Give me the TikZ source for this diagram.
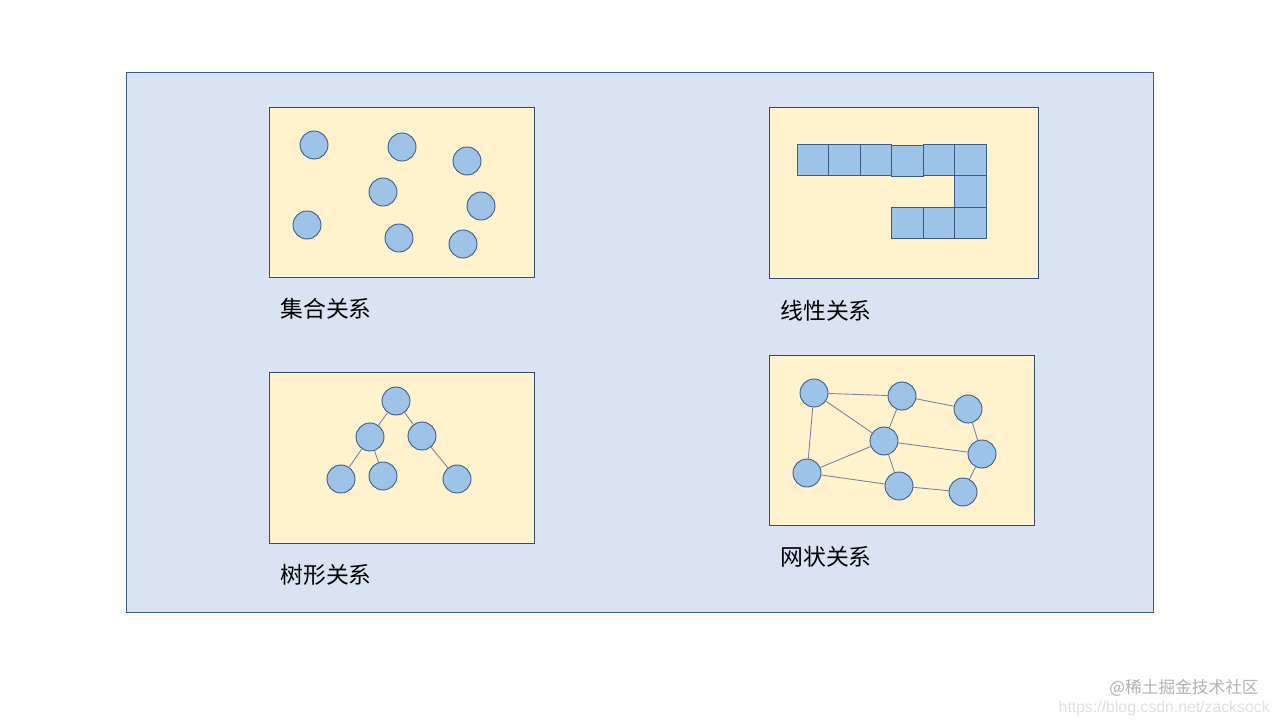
\documentclass[tikz,border=0pt]{standalone}
\usepackage{fontspec}
\newfontfamily\cjk{Noto Sans CJK SC}
\setsansfont{Liberation Sans}
\definecolor{fondo}{HTML}{DAE3F3}
\definecolor{borde}{HTML}{3A5A8C}
\definecolor{panel}{HTML}{FFF2CC}
\definecolor{nodo}{HTML}{9DC3E6}
\definecolor{linea}{HTML}{7A84A0}
\tikzset{
  Marco/.style={draw=borde!85!black,fill=panel,line width=0.5pt},
  Bola/.style={draw=borde,fill=nodo,circle,minimum size=0.56cm,inner sep=0pt,line width=0.5pt},
  Caja/.style={draw=borde,fill=nodo,rectangle,minimum size=0.63cm,inner sep=0pt,line width=0.5pt},
  Nombre/.style={anchor=west,font=\cjk\fontsize{13pt}{15pt}\selectfont,inner sep=0pt},
  Enlace/.style={draw=linea,line width=0.5pt}
}
\begin{document}
\begin{tikzpicture}[x=0.02cm,y=-0.02cm]
    \useasboundingbox (0,0) rectangle (1280,720);
    \fill[white] (0,0) rectangle (1280,720);
    %\draw (0,0) grid (3,3);
    \draw[draw=borde,fill=fondo,line width=0.5pt] (126,72) rectangle (1153,612);
    % conjunto
    \draw[Marco] (269,107) rectangle (534,277);
    \node[Bola] (c1) at (314,145) {};
    \node[Bola] (c2) at (402,147) {};
    \node[Bola] (c3) at (467,161) {};
    \node[Bola] (c4) at (383,192) {};
    \node[Bola] (c5) at (481,206) {};
    \node[Bola] (c6) at (307,225) {};
    \node[Bola] (c7) at (399,238) {};
    \node[Bola] (c8) at (463,244) {};
    \node[Nombre] (Conjunto) at (280,309) {集合关系};
    % lineal
    \draw[Marco] (769,107) rectangle (1038,278);
    \node[Caja] (s1) at (813,160) {};
    \node[Caja] (s2) at (844.5,160) {};
    \node[Caja] (s3) at (876,160) {};
    \node[Caja] (s4) at (907.5,161) {};
    \node[Caja] (s5) at (939,160) {};
    \node[Caja] (s6) at (970.5,160) {};
    \node[Caja] (s7) at (970.5,191.5) {};
    \node[Caja] (s8) at (970.5,223) {};
    \node[Caja] (s9) at (939,223) {};
    \node[Caja] (s10) at (907.5,223) {};
    \node[Nombre] (Lineal) at (780,311) {线性关系};
    % arbol
    \draw[Marco] (269,372) rectangle (534,543);
    \node[Bola] (raiz) at (396,401) {};
    \node[Bola] (izq) at (370,437) {};
    \node[Bola] (der) at (422,436) {};
    \node[Bola] (hoja1) at (341,479) {};
    \node[Bola] (hoja2) at (383,476) {};
    \node[Bola] (hoja3) at (457,479) {};
    \draw[Enlace] (raiz) -- (izq);
    \draw[Enlace] (raiz) -- (der);
    \draw[Enlace] (izq) -- (hoja1);
    \draw[Enlace] (izq) -- (hoja2);
    \draw[Enlace] (der) -- (hoja3);
    \node[Nombre] (Arbol) at (280,575) {树形关系};
    % red
    \draw[Marco] (769,355) rectangle (1034,525);
    \node[Bola] (a) at (814,393) {};
    \node[Bola] (b) at (902,396) {};
    \node[Bola] (c) at (968,409) {};
    \node[Bola] (d) at (884,441) {};
    \node[Bola] (e) at (982,454) {};
    \node[Bola] (f) at (807,473) {};
    \node[Bola] (g) at (899,486) {};
    \node[Bola] (h) at (963,492) {};
    \draw[Enlace] (a) -- (b);
    \draw[Enlace] (b) -- (c);
    \draw[Enlace] (a) -- (f);
    \draw[Enlace] (a) -- (d);
    \draw[Enlace] (b) -- (d);
    \draw[Enlace] (d) -- (e);
    \draw[Enlace] (c) -- (e);
    \draw[Enlace] (d) -- (f);
    \draw[Enlace] (d) -- (g);
    \draw[Enlace] (f) -- (g);
    \draw[Enlace] (g) -- (h);
    \draw[Enlace] (h) -- (e);
    \node[Nombre] (Red) at (780,557) {网状关系};
    % marca de agua
    \node[anchor=east,inner sep=0pt,text=black!12,font=\sffamily\fontsize{9pt}{11pt}\selectfont] (url) at (1270,708) {https://blog.csdn.net/zacksock};
    \node[anchor=east,inner sep=0pt,text=black!30,font=\cjk\fontsize{9.5pt}{11pt}\selectfont] (marca) at (1259,688) {@稀土掘金技术社区};
\end{tikzpicture}
\end{document}
